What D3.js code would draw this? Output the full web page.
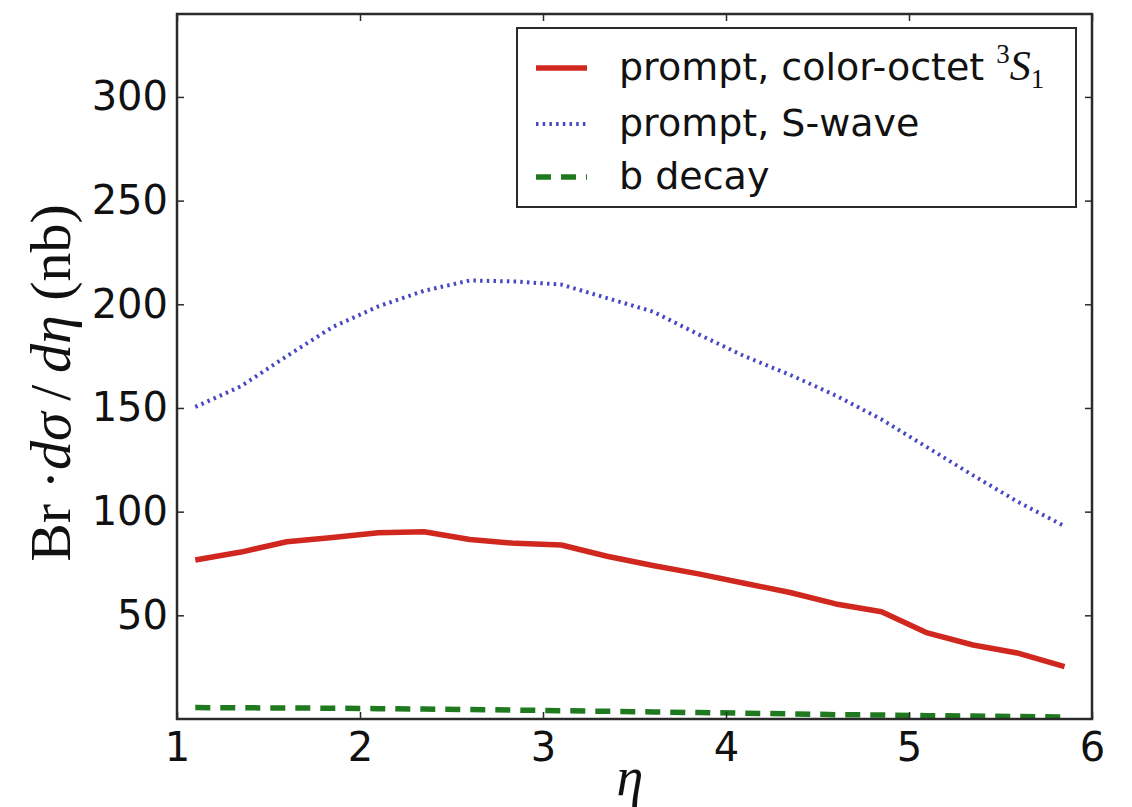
<!DOCTYPE html>
<html>
<head>
<meta charset="utf-8">
<script src="https://cdn.jsdelivr.net/npm/d3@7.9.0/dist/d3.min.js"></script>
<style>
  html, body { margin: 0; padding: 0; background: #fff; }
  svg { display: block; }
</style>
</head>
<body>
<svg id="chart"></svg>
<script>
// eta grid and curves
const eta = [1.1, 1.35, 1.6, 1.85, 2.1, 2.35, 2.6, 2.85, 3.1, 3.35, 3.6, 3.85, 4.1, 4.35, 4.6, 4.85, 5.1, 5.35, 5.6, 5.85];
const colorOctet = [76.7, 80.5, 85.5, 87.5, 89.8, 90.3, 86.6, 84.7, 83.9, 78.5, 74, 70, 65.5, 61, 55.5, 51.7, 41.5, 35.7, 31.7, 25.3];
const sWave = [150.5, 160.5, 175, 189, 199, 206.5, 211.5, 211, 209.5, 203, 196.5, 185.5, 175, 166, 156, 144.5, 131, 117.5, 104.5, 93];
const bDecay = [5.5, 5.4, 5.3, 5.2, 5.0, 4.8, 4.6, 4.3, 4.0, 3.7, 3.4, 3.1, 2.8, 2.5, 2.1, 1.9, 1.6, 1.4, 1.2, 1.0];

const xTicks = [1, 2, 3, 4, 5, 6];
const yTicks = [50, 100, 150, 200, 250, 300];

const W = 1132, H = 807;
const margin = {top: 14, right: 40, bottom: 88, left: 177};
const width = W - margin.left - margin.right, height = H - margin.top - margin.bottom;

const svg = d3.select("#chart").attr("width", W).attr("height", H);
const g = svg.append("g").attr("transform", `translate(${margin.left},${margin.top})`);

const x = d3.scaleLinear().domain([1, 6]).range([0, width]);
const y = d3.scaleLinear().domain([0, 340]).range([height, 0]);

const tickFont = "'DejaVu Sans', sans-serif";
const mathFont = "'Liberation Serif', 'DejaVu Serif', serif";

// series
const series = [
  {name: "octet", values: colorOctet, color: "#d0281e", width: 5.5, dash: null},
  {name: "swave", values: sWave, color: "#4848c4", width: 4, dash: "2.5,4.2"},
  {name: "bdecay", values: bDecay, color: "#1f7a1f", width: 5.5, dash: "15,10"}
];

const line = d3.line().x(d => x(d[0])).y(d => y(d[1]));

g.selectAll(".line")
  .data(series)
  .enter()
  .append("path")
  .attr("class", "line")
  .attr("fill", "none")
  .attr("stroke", d => d.color)
  .attr("stroke-width", d => d.width)
  .attr("stroke-dasharray", d => d.dash)
  .attr("stroke-linejoin", "round")
  .attr("d", d => line(eta.map((e, i) => [e, d.values[i]])));

// axes, matplotlib style: ticks pointing inward on all four sides
const axStroke = "#2a2a2a";
const axBottom = g.append("g").attr("transform", `translate(0,${height})`)
  .call(d3.axisBottom(x).tickValues(xTicks).tickSize(-7).tickPadding(14).tickFormat(d3.format("d")));
const axLeft = g.append("g")
  .call(d3.axisLeft(y).tickValues(yTicks).tickSize(-7).tickPadding(9).tickFormat(d3.format("d")));
const axTop = g.append("g")
  .call(d3.axisTop(x).tickValues(xTicks).tickSize(-7).tickFormat(""));
const axRight = g.append("g").attr("transform", `translate(${width},0)`)
  .call(d3.axisRight(y).tickValues(yTicks).tickSize(-7).tickFormat(""));

[axBottom, axLeft, axTop, axRight].forEach(a => {
  a.select(".domain").remove();
  a.selectAll(".tick line").attr("stroke", axStroke).attr("stroke-width", 1.5);
  a.selectAll(".tick text").attr("font-family", tickFont).attr("font-size", 40).attr("fill", "#111");
});
axBottom.selectAll(".tick text").attr("dy", "0.71em");

g.append("rect")
  .attr("x", 0).attr("y", 0).attr("width", width).attr("height", height)
  .attr("fill", "none").attr("stroke", axStroke).attr("stroke-width", 2.5);

// y label
const yl = svg.append("text")
  .attr("transform", "translate(70,383) rotate(-90)")
  .attr("text-anchor", "middle")
  .attr("font-family", mathFont)
  .attr("font-size", 58)
  .attr("fill", "#111");
yl.append("tspan").text("Br \u00b7");
yl.append("tspan").attr("font-style", "italic").text("d\u03c3");
yl.append("tspan").text("\u2009/\u2009");
yl.append("tspan").attr("font-style", "italic").text("d\u03b7");
yl.append("tspan").text(" (nb)");

// x label
svg.append("text")
  .attr("x", 630).attr("y", 795)
  .attr("text-anchor", "middle")
  .attr("font-family", mathFont)
  .attr("font-style", "italic")
  .attr("font-size", 54)
  .attr("fill", "#111")
  .text("\u03b7");

// legend
const legend = svg.append("g");
legend.append("rect")
  .attr("x", 517).attr("y", 28).attr("width", 559).attr("height", 179)
  .attr("fill", "#fff").attr("stroke", axStroke).attr("stroke-width", 2);

const legendRows = [
  {s: series[0], y: 68},
  {s: series[1], y: 124},
  {s: series[2], y: 177}
];
legendRows.forEach(r => {
  legend.append("line")
    .attr("x1", 536).attr("x2", 587).attr("y1", r.y).attr("y2", r.y)
    .attr("stroke", r.s.color).attr("stroke-width", r.s.width)
    .attr("stroke-dasharray", r.s.dash);
});

const t1 = legend.append("text").attr("x", 619).attr("y", 80)
  .attr("font-family", tickFont).attr("font-size", 38).attr("fill", "#111");
t1.append("tspan").text("prompt, color-octet ");
t1.append("tspan").attr("font-family", mathFont).attr("font-size", 27).attr("dy", -17).text("3");
t1.append("tspan").attr("font-family", mathFont).attr("font-style", "italic").attr("font-size", 42).attr("dy", 17).text("S");
t1.append("tspan").attr("font-family", mathFont).attr("font-size", 27).attr("dy", 8).text("1");

legend.append("text").attr("x", 619).attr("y", 136)
  .attr("font-family", tickFont).attr("font-size", 38).attr("fill", "#111")
  .text("prompt, S-wave");
legend.append("text").attr("x", 619).attr("y", 189)
  .attr("font-family", tickFont).attr("font-size", 38).attr("fill", "#111")
  .text("b decay");
</script>
</body>
</html>
